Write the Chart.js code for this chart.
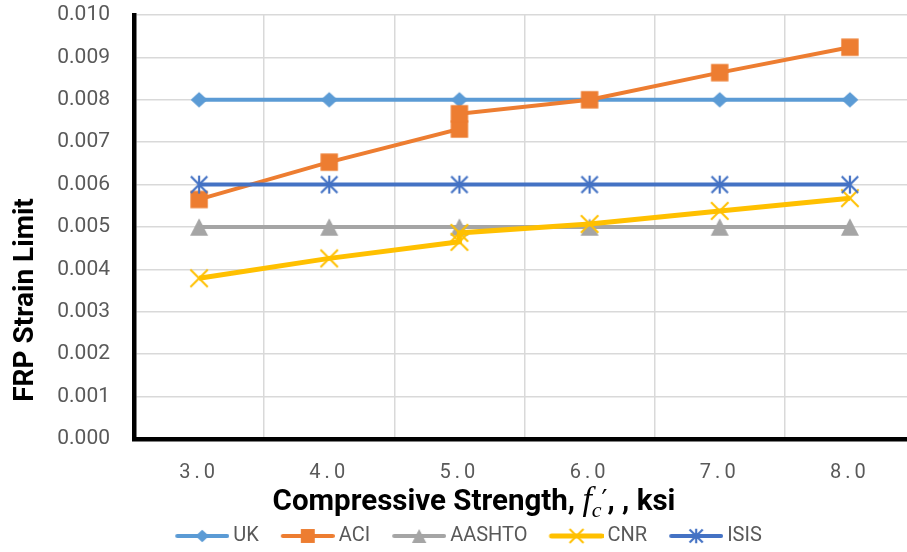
<!DOCTYPE html>
<html>
<head>
<meta charset="utf-8">
<style>
  html, body { margin: 0; padding: 0; background: #ffffff; overflow: hidden; }
  #chart { display: block; }
</style>
<script src="https://cdn.jsdelivr.net/npm/chart.js@4.4.1/dist/chart.umd.min.js"></script>
</head>
<body>
<canvas id="chart" width="916" height="556"></canvas>
<script>
// Concrete compressive strength f'c (ksi) and FRP strain limits by design guide
const fcKsi = [3, 4, 5, 6, 7, 8];
const xTickLabels = ['3.0', '4.0', '5.0', '6.0', '7.0', '8.0'];
const yTickLabels = ['0.000', '0.001', '0.002', '0.003', '0.004', '0.005',
                     '0.006', '0.007', '0.008', '0.009', '0.010'];

const ukLimit     = [0.008, 0.008, 0.008, 0.008, 0.008, 0.008];
const aashtoLimit = [0.005, 0.005, 0.005, 0.005, 0.005, 0.005];
const isisLimit   = [0.006, 0.006, 0.006, 0.006, 0.006, 0.006];

// ACI and CNR carry two results at 5.0 ksi
const aciFc    = [3, 4, 5, 5, 6, 7, 8];
const aciLimit = [0.00565, 0.00653, 0.00731, 0.00767, 0.00800, 0.00864, 0.00924];
const cnrFc    = [3, 4, 5, 5, 6, 7, 8];
const cnrLimit = [0.00379, 0.00426, 0.00465, 0.00486, 0.00507, 0.00538, 0.00568];

const seriesNames = ['UK', 'ACI', 'AASHTO', 'CNR', 'ISIS'];

const TEXT_GREY = '#595959';
const GRID_GREY = '#d9d9d9';
const FONT = 'Roboto';

// marker shapes drawn into small canvases, used as Chart.js point styles
function drawMarker(ctx, kind, cx, cy, color, s) {
  ctx.save();
  ctx.fillStyle = color;
  ctx.strokeStyle = color;
  ctx.lineCap = 'butt';
  ctx.beginPath();
  if (kind === 'diamond') {
    ctx.moveTo(cx, cy - 7.8 * s);
    ctx.lineTo(cx + 8.4 * s, cy);
    ctx.lineTo(cx, cy + 7.8 * s);
    ctx.lineTo(cx - 8.4 * s, cy);
    ctx.closePath();
    ctx.fill();
  } else if (kind === 'square') {
    ctx.rect(cx - 8.7 * s, cy - 8.7 * s, 17.4 * s, 17.4 * s);
    ctx.fill();
  } else if (kind === 'triangle') {
    ctx.moveTo(cx, cy - 8.8 * s);
    ctx.lineTo(cx + 9 * s, cy + 8.8 * s);
    ctx.lineTo(cx - 9 * s, cy + 8.8 * s);
    ctx.closePath();
    ctx.fill();
  } else if (kind === 'x') {
    ctx.lineWidth = 2;
    ctx.moveTo(cx - 8.7 * s, cy - 8.7 * s); ctx.lineTo(cx + 8.7 * s, cy + 8.7 * s);
    ctx.moveTo(cx + 8.7 * s, cy - 8.7 * s); ctx.lineTo(cx - 8.7 * s, cy + 8.7 * s);
    ctx.stroke();
  } else if (kind === 'star') {
    ctx.lineWidth = 2.2;
    ctx.moveTo(cx, cy - 9 * s); ctx.lineTo(cx, cy + 9 * s);
    ctx.moveTo(cx - 8.2 * s, cy - 8.2 * s); ctx.lineTo(cx + 8.2 * s, cy + 8.2 * s);
    ctx.moveTo(cx + 8.2 * s, cy - 8.2 * s); ctx.lineTo(cx - 8.2 * s, cy + 8.2 * s);
    ctx.stroke();
  }
  ctx.restore();
}

function markerCanvas(kind, color) {
  const c = document.createElement('canvas');
  c.width = 24; c.height = 24;
  drawMarker(c.getContext('2d'), kind, 12, 12, color, 1);
  return c;
}

function legendSwatch(kind, color, lineWidth) {
  const c = document.createElement('canvas');
  c.width = 82; c.height = 24;
  const g = c.getContext('2d');
  g.strokeStyle = color;
  g.lineWidth = lineWidth;
  g.lineCap = 'round';
  g.beginPath();
  g.moveTo(30, 12); g.lineTo(80, 12);
  g.stroke();
  drawMarker(g, kind, 55, 12, color, 0.8);
  return c;
}

const styles = [
  { color: '#5B9BD5', marker: 'diamond',  width: 4, order: 5 },
  { color: '#ED7D31', marker: 'square',   width: 4, order: 4 },
  { color: '#A5A5A5', marker: 'triangle', width: 4, order: 3 },
  { color: '#FFC000', marker: 'x',        width: 5, order: 2 },
  { color: '#4472C4', marker: 'star',     width: 4, order: 1 }
];

const seriesX = [fcKsi, aciFc, fcKsi, cnrFc, fcKsi];
const seriesY = [ukLimit, aciLimit, aashtoLimit, cnrLimit, isisLimit];

const datasets = seriesNames.map((name, i) => ({
  label: name,
  data: seriesX[i].map((x, k) => ({ x: x, y: seriesY[i][k] })),
  borderColor: styles[i].color,
  backgroundColor: styles[i].color,
  borderWidth: styles[i].width,
  pointStyle: markerCanvas(styles[i].marker, styles[i].color),
  pointRadius: 9,
  pointHoverRadius: 9,
  tension: 0,
  fill: false,
  order: styles[i].order
}));

const swatches = styles.map(s => legendSwatch(s.marker, s.color, s.width));

// axis titles drawn as text runs (the x title has an italic f'c)
const axisTitles = {
  id: 'axisTitles',
  afterDraw(chart) {
    const ctx = chart.ctx;
    ctx.save();
    ctx.fillStyle = '#000000';
    ctx.textBaseline = 'alphabetic';

    // vertical title
    ctx.save();
    ctx.translate(33, 300);
    ctx.rotate(-Math.PI / 2);
    ctx.font = 'bold 28px ' + FONT;
    ctx.textAlign = 'center';
    ctx.fillText('FRP Strain Limit', 0, 0);
    ctx.restore();

    // horizontal title
    const runs = [
      { t: 'Compressive Strength, ', f: 'bold 29.5px ' + FONT, dy: 0 },
      { t: 'f', f: 'italic 34px "Liberation Serif"', dy: 0 },
      { t: 'c', f: 'italic 22px "Liberation Serif"', dy: 7 },
      { t: '\u2032', f: '26px "DejaVu Sans"', dy: -1 },
      { t: ', , ksi', f: 'bold 29.5px ' + FONT, dy: 0 }
    ];
    ctx.textAlign = 'left';
    let total = 0;
    runs.forEach(r => { ctx.font = r.f; r.w = ctx.measureText(r.t).width; total += r.w; });
    let x = 474 - total / 2;
    runs.forEach(r => { ctx.font = r.f; ctx.fillText(r.t, x, 510 + r.dy); x += r.w; });
    ctx.restore();
  }
};

new Chart(document.getElementById('chart'), {
  type: 'line',
  data: { datasets: datasets },
  plugins: [axisTitles],
  options: {
    responsive: false,
    animation: false,
    events: [],
    layout: { autoPadding: false, padding: { top: 15, right: 1, bottom: 0, left: 0 } },
    plugins: {
      tooltip: { enabled: false },
      legend: {
        position: 'bottom',
        labels: {
          usePointStyle: true,
          pointStyleWidth: 70,
          boxHeight: 20,
          padding: 0,
          color: TEXT_GREY,
          font: { family: FONT, size: 20 },
          generateLabels: (chart) => chart.data.datasets.map((ds, i) => ({
            text: ds.label,
            pointStyle: swatches[i],
            fillStyle: ds.borderColor,
            strokeStyle: ds.borderColor,
            lineWidth: 0,
            fontColor: TEXT_GREY,
            hidden: false,
            datasetIndex: i
          }))
        }
      }
    },
    scales: {
      x: {
        type: 'linear',
        min: fcKsi[0] - 0.5,
        max: fcKsi[fcKsi.length - 1] + 0.5,
        afterBuildTicks: (scale) => {
          const vals = [];
          fcKsi.forEach(v => { vals.push(v - 0.5); vals.push(v); });
          vals.push(fcKsi[fcKsi.length - 1] + 0.5);
          scale.ticks = vals.map(v => ({ value: v }));
        },
        afterFit: (scale) => {
          scale.height = 87;
          scale.paddingLeft = 0;
          scale.paddingRight = 0;
          if (!scale._spacedLabels) {
            const base = scale.drawLabels;
            scale.drawLabels = function (area) {
              const c = this.ctx;
              const prev = c.letterSpacing;
              c.letterSpacing = '4px';
              base.call(this, area);
              c.letterSpacing = prev || '0px';
            };
            scale._spacedLabels = true;
          }
        },
        ticks: {
          autoSkip: false,
          maxRotation: 0,
          padding: 22,
          color: TEXT_GREY,
          font: { family: FONT, size: 20 },
          callback: (value) => {
            const i = fcKsi.indexOf(value);
            return i >= 0 ? xTickLabels[i] : '';
          }
        },
        grid: {
          drawTicks: false,
          lineWidth: 1.5,
          color: (ctx) => (ctx.tick && fcKsi.includes(ctx.tick.value)) ? 'rgba(0,0,0,0)' : GRID_GREY
        },
        border: { color: '#000000', width: 4.5 }
      },
      y: {
        min: 0,
        max: 0.01,
        afterBuildTicks: (scale) => {
          scale.ticks = yTickLabels.map(t => ({ value: parseFloat(t) }));
        },
        afterFit: (scale) => {
          scale.width = 134;
          scale.paddingTop = 0;
          scale.paddingBottom = 0;
        },
        ticks: {
          padding: 24,
          color: TEXT_GREY,
          font: { family: FONT, size: 21 },
          callback: (value, index) => yTickLabels[index]
        },
        grid: { drawTicks: false, lineWidth: 1.5, color: GRID_GREY },
        border: { color: '#000000', width: 4.5 }
      }
    }
  }
});
</script>
</body>
</html>
